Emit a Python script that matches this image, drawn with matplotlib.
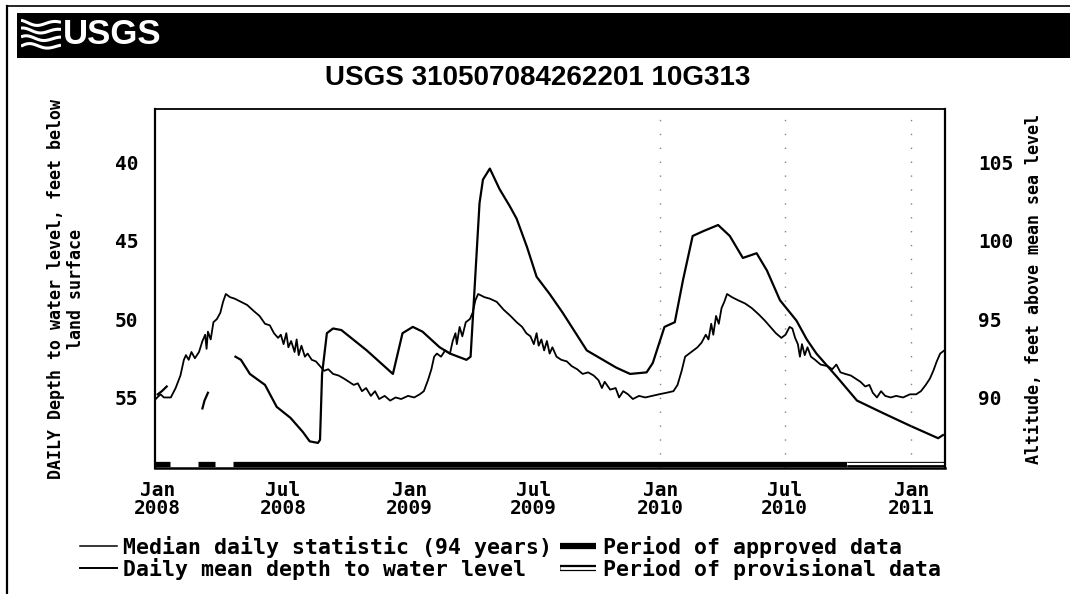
import numpy as np
import matplotlib
matplotlib.use("Agg")
import matplotlib.pyplot as plt
from matplotlib.lines import Line2D
from matplotlib.patches import Rectangle

# Median daily statistic, depth to water level (ft below land surface)
median_dates = [
    "2007-12-29", "2008-01-05", "2008-01-10", "2008-01-20", "2008-01-27", "2008-02-03",
    "2008-02-08", "2008-02-11", "2008-02-15", "2008-02-19", "2008-02-24", "2008-03-01",
    "2008-03-06", "2008-03-10", "2008-03-12", "2008-03-14", "2008-03-18", "2008-03-22",
    "2008-03-27", "2008-04-01", "2008-04-05", "2008-04-09", "2008-04-15", "2008-04-22",
    "2008-05-01", "2008-05-10", "2008-05-20", "2008-05-28", "2008-06-05", "2008-06-12",
    "2008-06-18", "2008-06-24", "2008-06-28", "2008-07-02", "2008-07-06", "2008-07-09",
    "2008-07-13", "2008-07-18", "2008-07-21", "2008-07-24", "2008-07-28", "2008-08-02",
    "2008-08-06", "2008-08-12", "2008-08-18", "2008-08-24", "2008-08-30", "2008-09-05",
    "2008-09-12", "2008-09-20", "2008-09-28", "2008-10-05", "2008-10-12", "2008-10-18",
    "2008-10-24", "2008-10-30", "2008-11-06", "2008-11-12", "2008-11-18", "2008-11-26",
    "2008-12-04", "2008-12-12", "2008-12-20", "2008-12-30", "2009-01-08", "2009-01-16",
    "2009-01-22", "2009-01-28", "2009-02-02", "2009-02-06", "2009-02-10", "2009-02-16",
    "2009-02-22", "2009-03-01", "2009-03-05", "2009-03-09", "2009-03-11", "2009-03-15",
    "2009-03-19", "2009-03-24", "2009-03-30", "2009-04-03", "2009-04-07", "2009-04-11",
    "2009-04-20", "2009-04-28", "2009-05-08", "2009-05-18", "2009-05-28", "2009-06-06",
    "2009-06-14", "2009-06-20", "2009-06-26", "2009-07-01", "2009-07-05", "2009-07-08",
    "2009-07-12", "2009-07-16", "2009-07-20", "2009-07-24", "2009-07-28", "2009-08-03",
    "2009-08-10", "2009-08-18", "2009-08-25", "2009-09-02", "2009-09-10", "2009-09-18",
    "2009-09-26", "2009-10-03", "2009-10-08", "2009-10-12", "2009-10-20", "2009-10-28",
    "2009-11-02", "2009-11-08", "2009-11-15", "2009-11-22", "2009-12-01", "2009-12-10",
    "2009-12-20", "2009-12-30", "2010-01-10", "2010-01-20", "2010-01-26", "2010-02-01",
    "2010-02-06", "2010-02-12", "2010-02-18", "2010-02-24", "2010-03-02", "2010-03-08",
    "2010-03-12", "2010-03-16", "2010-03-19", "2010-03-23", "2010-03-27", "2010-03-31",
    "2010-04-04", "2010-04-08", "2010-04-15", "2010-04-24", "2010-05-04", "2010-05-14",
    "2010-05-24", "2010-06-02", "2010-06-10", "2010-06-18", "2010-06-26", "2010-07-02",
    "2010-07-08", "2010-07-12", "2010-07-16", "2010-07-20", "2010-07-23", "2010-07-26",
    "2010-07-30", "2010-08-03", "2010-08-08", "2010-08-14", "2010-08-22", "2010-09-01",
    "2010-09-08", "2010-09-14", "2010-09-20", "2010-09-27", "2010-10-05", "2010-10-12",
    "2010-10-19", "2010-10-26", "2010-11-01", "2010-11-06", "2010-11-12", "2010-11-18",
    "2010-11-24", "2010-12-02", "2010-12-10", "2010-12-20", "2010-12-30", "2011-01-08",
    "2011-01-15", "2011-01-22", "2011-01-28", "2011-02-02", "2011-02-07", "2011-02-12",
    "2011-02-18",
]
median_depth = [
    55.1, 54.8, 55.0, 55.0, 54.4, 53.6,
    52.6, 52.3, 52.6, 52.1, 52.5, 52.1,
    51.4, 51.0, 51.9, 50.8, 51.3, 50.2,
    50.0, 49.6, 48.9, 48.4, 48.6, 48.7,
    48.9, 49.1, 49.5, 49.8, 50.3, 50.4,
    50.9, 51.2, 51.0, 51.6, 50.9, 51.8,
    51.4, 52.1, 51.3, 52.3, 51.7, 52.4,
    52.2, 52.6, 52.7, 53.0, 53.3, 53.2,
    53.5, 53.6, 53.8, 54.0, 54.2, 54.1,
    54.6, 54.4, 54.9, 54.6, 55.1, 54.9,
    55.2, 55.0, 55.1, 54.9, 55.0, 54.8,
    54.6, 53.9, 53.2, 52.4, 52.2, 52.4,
    52.0, 52.2, 51.4, 50.9, 51.6, 50.5,
    51.1, 50.2, 50.0, 49.6, 48.8, 48.4,
    48.6, 48.7, 48.9, 49.4, 49.8, 50.2,
    50.5, 50.9, 51.1, 51.6, 50.9, 51.7,
    51.3, 52.0, 51.4, 52.2, 51.8, 52.4,
    52.6, 52.7, 53.0, 53.2, 53.5, 53.4,
    53.6, 53.9, 54.4, 54.0, 54.5, 54.4,
    55.0, 54.6, 54.8, 55.1, 54.9, 55.0,
    54.9, 54.8, 54.7, 54.6, 54.2, 53.3,
    52.4, 52.2, 52.0, 51.8, 51.5, 51.0,
    51.3, 50.3, 51.0, 49.8, 50.3, 49.3,
    48.9, 48.4, 48.6, 48.8, 49.0, 49.3,
    49.7, 50.1, 50.5, 50.9, 51.2, 51.0,
    50.5, 50.6, 51.2, 51.6, 52.4, 51.6,
    52.3, 51.8, 52.4, 52.6, 52.9, 53.0,
    53.2, 52.9, 53.4, 53.5, 53.6, 53.8,
    54.0, 54.3, 54.2, 54.7, 55.0, 54.6,
    54.9, 55.0, 54.9, 55.0, 54.8, 54.8,
    54.6, 54.2, 53.8, 53.3, 52.7, 52.2,
    52.0,
]

# Daily mean depth to water level; None marks gaps in the record
daily_dates = [
    "2008-01-01", "2008-01-07", "2008-01-14", "2008-01-15",
    "2008-03-06", "2008-03-09", "2008-03-14", "2008-03-15",
    "2008-04-23", "2008-05-01", "2008-05-14", "2008-06-05", "2008-06-22", "2008-07-12",
    "2008-07-30", "2008-08-09", "2008-08-21", "2008-08-24", "2008-08-27", "2008-09-03",
    "2008-09-12", "2008-09-24", "2008-10-31", "2008-12-08", "2008-12-15", "2008-12-22",
    "2009-01-06", "2009-01-20", "2009-02-14", "2009-03-01", "2009-03-25", "2009-03-31",
    "2009-04-06", "2009-04-13", "2009-04-18", "2009-04-28", "2009-05-12", "2009-05-27",
    "2009-06-06", "2009-06-21", "2009-07-05", "2009-07-24", "2009-08-12", "2009-09-16",
    "2009-10-29", "2009-11-18", "2009-12-12", "2009-12-21", "2010-01-07", "2010-01-22",
    "2010-02-03", "2010-02-17", "2010-03-04", "2010-03-26", "2010-04-12", "2010-05-01",
    "2010-05-21", "2010-06-05", "2010-06-24", "2010-07-18", "2010-08-02", "2010-08-16",
    "2010-09-15", "2010-10-14", "2010-11-21", "2010-12-30", "2011-02-09", "2011-02-16",
]
daily_depth = [
    54.8, 54.6, 54.3, None,
    55.7, 55.2, 54.7, None,
    52.4, 52.6, 53.5, 54.2, 55.6, 56.3,
    57.2, 57.8, 57.9, 57.7, 53.5, 50.9,
    50.6, 50.7, 52.0, 53.5, 52.2, 50.9,
    50.5, 50.8, 51.8, 52.2, 52.6, 52.4,
    47.9, 42.6, 41.1, 40.4, 41.7, 42.8,
    43.6, 45.4, 47.3, 48.4, 49.6, 52.0,
    53.1, 53.5, 53.4, 52.8, 50.5, 50.2,
    47.5, 44.7, 44.4, 44.0, 44.7, 46.1,
    45.8, 46.9, 48.8, 50.1, 51.3, 52.2,
    53.7, 55.2, 56.0, 56.8, 57.6, 57.4,
]

# Data-approval periods shown along the bottom of the plot
approved_periods = [("2007-12-28", "2008-01-19"), ("2008-02-29", "2008-03-24"),
                    ("2008-04-19", "2010-09-30")]
provisional_periods = [("2010-09-30", "2011-02-19")]

tick_dates = ["2008-01-01", "2008-07-01", "2009-01-01", "2009-07-01",
              "2010-01-01", "2010-07-01", "2011-01-01"]
tick_labels = ["Jan\n2008", "Jul\n2008", "Jan\n2009", "Jul\n2009",
               "Jan\n2010", "Jul\n2010", "Jan\n2011"]
depth_ticks = [40, 45, 50, 55]
altitude_ticks = [90, 95, 100, 105]
land_surface_alt = 145.0

mono = "DejaVu Sans Mono"
W, H = 1070, 594

fig = plt.figure(figsize=(W / 100, H / 100), dpi=100)

# page frame and black banner
fig.add_artist(Line2D([7 / W, 7 / W], [0, 1 - 6 / H], color="black", lw=1.6))
fig.add_artist(Line2D([7 / W, 1], [1 - 6 / H, 1 - 6 / H], color="black", lw=1.2))
fig.add_artist(Rectangle((17 / W, 1 - 58 / H), 1 - 17 / W, 45 / H,
                         facecolor="black", edgecolor="none", zorder=-1))

# wave mark of the logo
logo = fig.add_axes([21 / W, 1 - 50 / H, 40 / W, 32 / H], zorder=3)
logo.set_axis_off()
xs = np.linspace(0, 1, 60)
for k in range(4):
    off = k * 0.24
    logo.plot(xs, 0.12 + off + 0.09 * np.sin(xs * 7 + k * 0.6) * (1 - xs * 0.5),
              color="white", lw=2.2, solid_capstyle="butt")
logo.set_xlim(0, 1)
logo.set_ylim(0, 1)
fig.text(63 / W, 1 - 35 / H, "USGS", color="white", fontsize=25,
         fontweight="bold", family="Liberation Sans", ha="left", va="center")

fig.text(538 / W, 1 - 78 / H, "USGS 310507084262201 10G313", fontsize=20,
         fontweight="bold", family="Liberation Sans", ha="center", va="center")

ax = fig.add_axes([155 / W, 1 - 468 / H, 790 / W, 359 / H])

md = np.array(median_dates, dtype="datetime64[D]")
dd = np.array(daily_dates, dtype="datetime64[D]")
dv = np.array([np.nan if v is None else v for v in daily_depth])

ax.plot(md, median_depth, color="black", lw=1.3)
ax.plot(dd, dv, color="black", lw=1.6)

# faint dotted guides
for d in ["2010-01-01", "2010-07-01", "2011-01-01"]:
    ax.axvline(np.datetime64(d), color="0.3", lw=1.0, dashes=(1, 9), alpha=0.7)

bar_tr = ax.get_xaxis_transform()
for s, e in approved_periods:
    ax.plot([np.datetime64(s), np.datetime64(e)], [0.012, 0.012], transform=bar_tr,
            color="black", lw=3.8, solid_capstyle="butt", clip_on=False)
for s, e in provisional_periods:
    ax.plot([np.datetime64(s), np.datetime64(e)], [0.012, 0.012], transform=bar_tr,
            color="black", lw=3.8, solid_capstyle="butt", clip_on=False)
    ax.plot([np.datetime64(s), np.datetime64(e)], [0.012, 0.012], transform=bar_tr,
            color="white", lw=1.6, solid_capstyle="butt", clip_on=False)

ax.set_xlim(np.datetime64("2007-12-28"), np.datetime64("2011-02-19"))
ax.set_ylim(59.5, 36.6)
ax.set_xticks(np.array(tick_dates, dtype="datetime64[D]"))
ax.set_xticklabels(tick_labels, fontsize=14, fontweight="bold", family=mono,
                   linespacing=0.95)
ax.set_yticks(depth_ticks)
ax.set_yticklabels([str(t) for t in depth_ticks], fontsize=14, fontweight="bold",
                   family=mono)
ax.tick_params(axis="x", length=0, pad=9)
ax.tick_params(axis="y", length=0, pad=12)
for sp in ax.spines.values():
    sp.set_linewidth(1.3)
ax.spines["left"].set_linewidth(1.6)
ax.spines["right"].set_linewidth(1.6)
ax.spines["bottom"].set_linewidth(1.8)

ax2 = ax.twinx()
lo, hi = ax.get_ylim()
ax2.set_ylim(land_surface_alt - lo, land_surface_alt - hi)
ax2.set_yticks(altitude_ticks)
ax2.set_yticklabels([str(t) for t in altitude_ticks], fontsize=14,
                    fontweight="bold", family=mono)
ax2.tick_params(axis="y", length=0, pad=24)
for sp in ax2.spines.values():
    sp.set_visible(False)

fig.text(66 / W, 1 - 289 / H, "DAILY Depth to water level, feet below\nland surface",
         rotation=90, ha="center", va="center", multialignment="center",
         fontsize=12, fontweight="bold", family=mono, linespacing=1.15)
fig.text(1034 / W, 1 - 289 / H, "Altitude, feet above mean sea level",
         rotation=90, ha="center", va="center",
         fontsize=12, fontweight="bold", family=mono)

handles = [
    Line2D([], [], color="black", lw=1.1),
    Line2D([], [], color="black", lw=1.4),
    Line2D([], [], color="black", lw=4.5, solid_capstyle="butt"),
    (Line2D([], [], color="black", lw=4.5, solid_capstyle="butt"),
     Line2D([], [], color="white", lw=2.0, solid_capstyle="butt")),
]
labels = ["Median daily statistic (94 years)", "Daily mean depth to water level",
          "Period of approved data", "Period of provisional data"]
fig.legend(handles, labels, ncol=2, loc="upper left",
           bbox_to_anchor=(80 / W, 1 - 536 / H), frameon=False,
           prop={"family": mono, "weight": "bold", "size": 15.5},
           handlelength=1.7, handletextpad=0.3, columnspacing=0.35,
           labelspacing=0.0, borderpad=0, borderaxespad=0)

fig.savefig("out.png", dpi=100)
